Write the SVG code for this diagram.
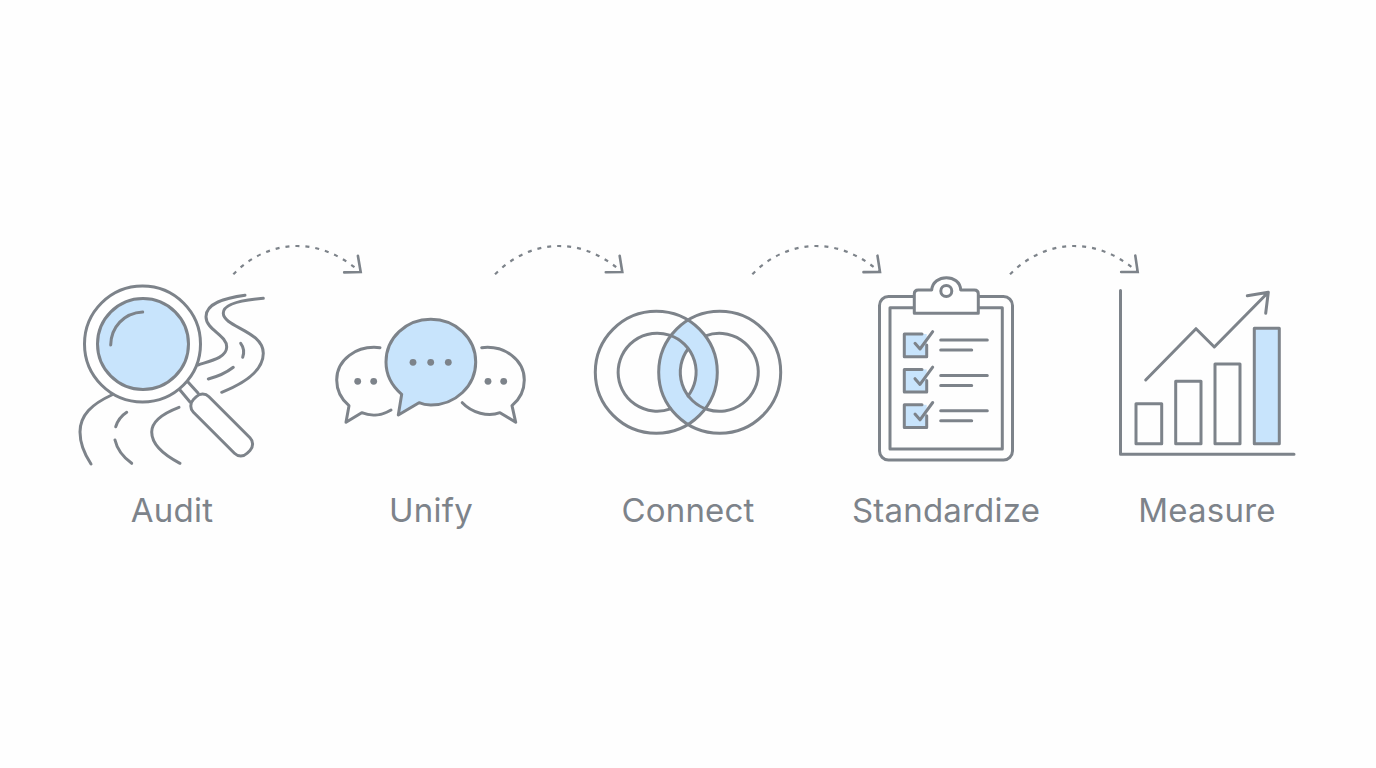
<svg xmlns="http://www.w3.org/2000/svg" width="1376" height="768" viewBox="0 0 1376 768">
<defs>
<style>
.l{fill:none;stroke:#7d838a;stroke-width:3;stroke-linecap:round;stroke-linejoin:round}
.b{fill:#c8e4fc;stroke:#7d838a;stroke-width:3;stroke-linejoin:round}
.w{fill:#fff;stroke:#7d838a;stroke-width:3;stroke-linejoin:round}
.f{fill:#c8e4fc;stroke:none}
.d{fill:#7d838a;stroke:none}
.c{fill:none;stroke:#7d838a;stroke-width:2.2;stroke-dasharray:4 6;marker-end:url(#head)}
.t{font-family:Inter,"Liberation Sans",sans-serif;font-size:33px;fill:#7d838a;text-anchor:middle;letter-spacing:.2px}
</style>
<marker id="head" markerUnits="userSpaceOnUse" markerWidth="30" markerHeight="30" viewBox="-20 -15 30 30" refX="0" refY="0" orient="auto">
<path d="M-12.5,-10.8L0,0L-12.5,10.8" fill="none" stroke="#7d838a" stroke-width="2.6" stroke-linecap="round" stroke-linejoin="miter"/>
</marker>
</defs>
<rect width="1376" height="768" fill="#fefefe"/>
<g id="connectors">
<path class="c" d="M233.3,274.3C252,255 275,246 297,246C320,246 340,255 360.7,272"/>
<path class="c" d="M495,274.3C514,255 537,246 559,246C582,246 602,255 622.3,272"/>
<path class="c" d="M752.3,274.3C771,255 794,246 816,246C839,246 860,255 880,272"/>
<path class="c" d="M1010,274.3C1029,255 1052,246 1074,246C1097,246 1118,255 1137.7,272"/>
</g>
<g id="audit">
<path class="l" d="M245,295.3C225,298 206,303 206,316.7C206,330 227,335 226.7,347C226.5,358 210,361 198,365"/>
<path class="l" d="M263.3,298.3C240,300 223,304 223.3,313.3C223.6,327 263.3,331 263.3,353.3C263.3,372 240,385 221.7,392.3"/>
<path class="l" d="M240.7,343.3C243.5,347 244.5,352 242.7,357.3"/>
<path class="l" d="M208.3,379C218,376.5 226,373 233.3,367.3"/>
<path class="l" d="M111.7,395C92,404 80,415 80,432C80,445 85,455 91,464"/>
<path class="l" d="M126.7,412.3C121,416 117.5,421 115.7,426.7"/>
<path class="l" d="M115,440C117,449 123,457 131.7,463.3"/>
<path class="l" d="M179,407.3C164,413 151.7,421 151.7,432C151.7,446 166,456 180,463.3"/>
<path class="l" d="M180,390L190,402M188,382L198,393"/>
<rect class="w" x="183.7" y="414" width="76" height="22" rx="9" transform="rotate(45 221.7 425)"/>
<circle class="w" cx="142.5" cy="344" r="58"/>
<circle class="b" cx="143" cy="344" r="45.5"/>
<path class="l" d="M110.7,345C111,327 124,313 142.7,312"/>
</g>
<g id="unify">
<path class="l" d="M380,347.7C356,345 336.7,360 336.7,380C336.7,390 341,399 349,405.7L346,422.3L361.7,412.7C372,417 383,415 391,410"/>
<path class="l" d="M481.7,347.7C505,345 524.3,360 524.3,380C524.3,390 520,399 512,405.7L515.7,422.3L500,412.7C488,417 472,413 462.3,402.7"/>
<path class="b" d="M386,362C386,338 406,319.3 430.8,319.3C455.5,319.3 475.7,338 475.7,362C475.7,386 455.5,405 430.8,405C426,405 423,404.5 419,402.7L398.3,415L401.7,394.3C392,386 386,375 386,362Z"/>
<circle class="d" cx="413" cy="362.3" r="3.4"/><circle class="d" cx="430.7" cy="362.3" r="3.4"/><circle class="d" cx="448.3" cy="362.3" r="3.4"/>
<circle class="d" cx="357.7" cy="381.3" r="3.4"/><circle class="d" cx="373.7" cy="381.3" r="3.4"/>
<circle class="d" cx="488" cy="381.3" r="3.4"/><circle class="d" cx="503.7" cy="381.3" r="3.4"/>
</g>
<g id="connect">
<path class="f" fill-rule="evenodd" d="M688,319.7A61.3,61.3 0 0 1 688,424.7A61.3,61.3 0 0 1 688,319.7ZM688,349A39,39 0 0 0 688,396A39,39 0 0 0 688,349Z"/>
<circle class="l" cx="656.3" cy="372.2" r="61"/>
<circle class="l" cx="719.7" cy="372.2" r="61"/>
<path class="l" d="M688,396A39,39 0 1 0 670.5,408.8"/>
<path class="l" d="M688,349A39,39 0 1 0 705.5,335.8"/>
</g>
<g id="standardize">
<rect class="l" x="879.5" y="296.5" width="133" height="163.5" rx="9"/>
<rect class="l" x="890" y="307.7" width="112.3" height="141.3"/>
<path class="w" d="M914.3,313.3V294Q914.3,290 918.3,290H931.7C933,273.5 960,273.5 960.7,290H974.3Q978.3,290 978.3,294V313.3Z"/>
<circle class="l" cx="946.3" cy="291" r="5.5"/>
<g id="check1">
<path class="f" d="M904.3,334H926.7V356.7H904.3Z"/>
<path class="l" d="M922,334H904.3V356.7H926.7V345"/>
<path class="l" d="M915,343.3L920,349L932.7,331.7M940.7,340H987.3M940.7,350H971.7"/>
</g>
<g id="check2">
<path class="f" d="M904.3,369.4H926.7V392.1H904.3Z"/>
<path class="l" d="M922,369.4H904.3V392.1H926.7V380.4"/>
<path class="l" d="M915,378.7L920,384.4L932.7,367.1M940.7,375.4H987.3M940.7,385.4H971.7"/>
</g>
<g id="check3">
<path class="f" d="M904.3,404.8H926.7V427.5H904.3Z"/>
<path class="l" d="M922,404.8H904.3V427.5H926.7V415.8"/>
<path class="l" d="M915,414.1L920,419.8L932.7,402.5M940.7,410.8H987.3M940.7,420.8H971.7"/>
</g>
</g>
<g id="measure">
<path class="l" d="M1120.5,290.5V454.3H1294"/>
<rect class="l" x="1136" y="403.7" width="25.7" height="40"/>
<rect class="l" x="1175.7" y="381.3" width="25.3" height="62.4"/>
<rect class="l" x="1215" y="364" width="25" height="79.7"/>
<rect class="b" x="1254.3" y="328.3" width="25" height="115.4"/>
<path class="l" d="M1145.7,380L1196,328.7L1214.3,347L1268.3,292.3M1247.3,295.7L1268.3,292.3L1265.7,313.3"/>
</g>
<g id="labels">
<text class="t" x="172" y="522">Audit</text>
<text class="t" x="431" y="522">Unify</text>
<text class="t" x="688" y="522">Connect</text>
<text class="t" x="946" y="522">Standardize</text>
<text class="t" x="1207" y="522">Measure</text>
</g>
</svg>
